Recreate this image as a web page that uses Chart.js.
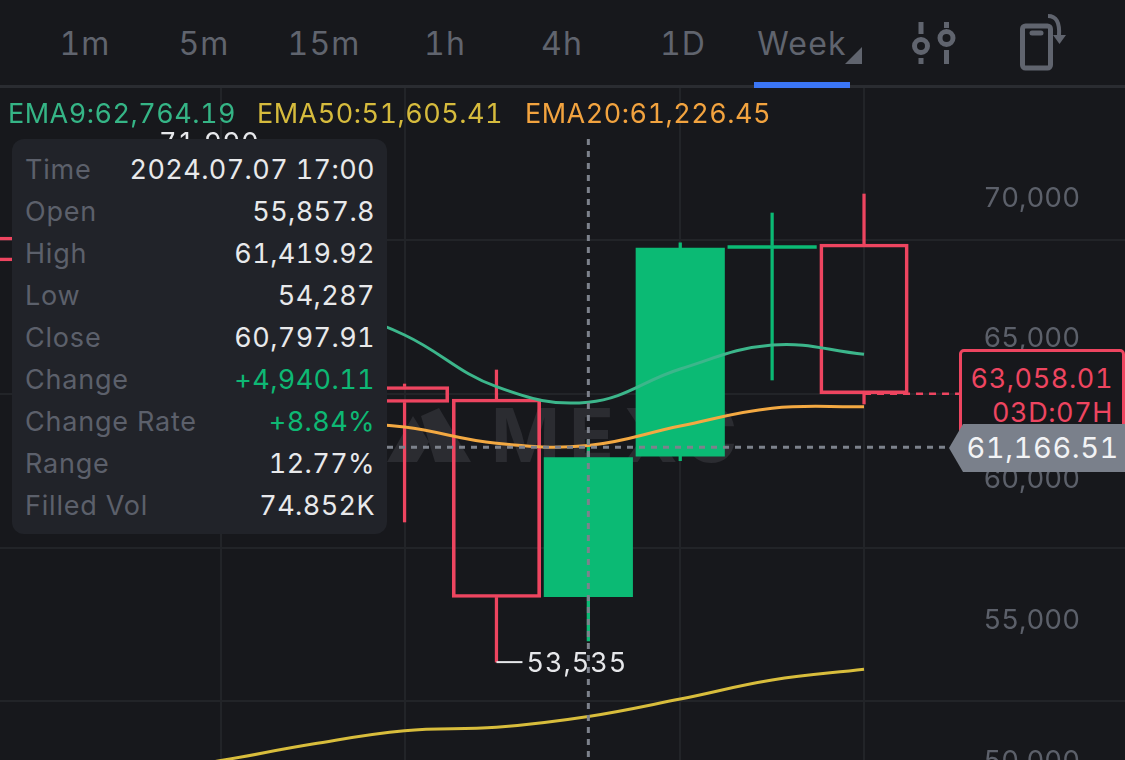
<!DOCTYPE html>
<html>
<head>
<meta charset="utf-8">
<script src="https://cdn.jsdelivr.net/npm/chart.js@4"></script>
<style>
  html, body { margin: 0; padding: 0; background: #17181c; overflow: hidden; }
  body { width: 1125px; height: 760px; position: relative; font-family: Inter, Roboto, sans-serif; font-variant-numeric: tabular-nums; }
  .abs { position: absolute; white-space: nowrap; }
  #chart { position: absolute; left: 0; top: 0; z-index: 2; }
  #watermark { left: 387px; top: 400px; width: 360px; height: 70px; z-index: 1; color: #2b2c31; font-size: 74px; font-weight: 700; letter-spacing: 9px; line-height: 70px; }
  #watermark svg { position: absolute; left: 0; top: 8px; }
  #watermark span { position: absolute; left: 104px; top: 0; }
  #header { left: 0; top: 0; width: 1125px; height: 85px; background: #17181c; border-bottom: 3px solid #2a2c31; z-index: 3; }
  .tf { top: 24px; height: 40px; line-height: 40px; font-size: 32px; color: #60646e; transform: translateX(-50%); letter-spacing: 1.2px; }
  #underline { left: 754px; top: 82px; width: 96px; height: 6px; background: #3b76f6; z-index: 4; }
  .ema { top: 97px; line-height: 34px; font-size: 27px; letter-spacing: 0.5px; z-index: 3; }
  #tip { left: 12px; top: 139px; width: 375px; height: 395px; background: #212329; border-radius: 12px; z-index: 4; }
  .row { position: absolute; left: 13px; right: 12px; height: 42px; line-height: 42px; font-size: 27px; letter-spacing: 0.4px; display: flex; justify-content: space-between; color: #e8e9eb; }
  .row span:first-child { color: #5c606b; letter-spacing: 0.8px; }
  .row .up { color: #0eb874; }
  #priceBox { left: 959px; top: 349px; width: 160px; height: 90px; border: 3px solid #ee4560; border-radius: 5px; background: #17181c; z-index: 4; color: #ee4560; font-size: 27px; letter-spacing: 0.6px; text-align: right; line-height: 34px; }
  #priceBox div { padding-right: 9px; }
  #crossLabel { left: 949px; top: 424px; width: 176px; height: 48px; background: #7a808b; clip-path: polygon(0 50%, 14px 0, 100% 0, 100% 100%, 14px 100%); z-index: 5; color: #f2f3f5; font-size: 29px; line-height: 48px; text-align: right; letter-spacing: 0.6px; }
  #crossLabel span { padding-right: 6px; }
</style>
</head>
<body>
<div class="abs" id="watermark">
  <svg width="84" height="54" viewBox="0 0 84 54"><path d="M0 54 L26 8 L42 34 L30 54 Z M34 8 L52 0 L84 54 L48 54 Z" fill="#2b2c31"/></svg><span>MEXC</span>
</div>
<canvas id="chart" width="1125" height="760"></canvas>

<div class="abs" id="header">
  <div class="abs tf" style="left:85px">1m</div>
  <div class="abs tf" style="left:204px">5m</div>
  <div class="abs tf" style="left:324px">15m</div>
  <div class="abs tf" style="left:445px">1h</div>
  <div class="abs tf" style="left:562px">4h</div>
  <div class="abs tf" style="left:683px">1D</div>
  <div class="abs tf" style="left:802px">Week</div>
  <svg class="abs" style="left:0;top:0" width="1125" height="85" fill="none" stroke="#60646e" stroke-width="5">
    <path d="M845 64 L862 64 L862 47 Z" fill="#60646e" stroke="none"/>
    <path d="M921 22 V34 M921 58 V64 M946.5 22 V28 M946.5 50 V64"/>
    <circle cx="921" cy="46" r="6.5"/>
    <circle cx="946.5" cy="38" r="6.5"/>
    <rect x="1022.5" y="26" width="28" height="42" rx="3"/>
    <path d="M1032 33 H1041" stroke-linecap="round"/>
    <path d="M1048 16 C1056 16 1060 22 1059 36" stroke-width="4"/>
    <path d="M1053 35 H1066 L1059.500 44 Z" fill="#60646e" stroke="none"/>
  </svg>
</div>
<div class="abs" id="underline"></div>

<div class="abs ema" style="left:8px;color:#35b586">EMA9:62,764.19</div>
<div class="abs ema" style="left:257px;color:#d6bb3d">EMA50:51,605.41</div>
<div class="abs ema" style="left:525px;color:#f2a33f">EMA20:61,226.45</div>

<div class="abs" id="tip">
  <div class="row" style="top:10px"><span>Time</span><span>2024.07.07 17:00</span></div>
  <div class="row" style="top:52px"><span>Open</span><span>55,857.8</span></div>
  <div class="row" style="top:94px"><span>High</span><span>61,419.92</span></div>
  <div class="row" style="top:136px"><span>Low</span><span>54,287</span></div>
  <div class="row" style="top:178px"><span>Close</span><span>60,797.91</span></div>
  <div class="row" style="top:220px"><span>Change</span><span class="up">+4,940.11</span></div>
  <div class="row" style="top:262px"><span>Change Rate</span><span class="up">+8.84%</span></div>
  <div class="row" style="top:304px"><span>Range</span><span>12.77%</span></div>
  <div class="row" style="top:346px"><span>Filled Vol</span><span>74.852K</span></div>
</div>

<div class="abs" id="priceBox">
  <div style="margin-top:10px">63,058.01</div>
  <div>03D:07H</div>
</div>
<div class="abs" id="crossLabel"><span>61,166.51</span></div>

<script>
// Weekly candles, the first four are mostly hidden behind the info panel
const weeks = ['05.26', '06.02', '06.09', '06.16', '06.23', '06.30', '07.07', '07.14', '07.21', '07.28']
const opens = [68626, 67800, 69200, 66400, 63320, 62875, 55857.8, 60850, 68220, 68378]
const closes = [67775, 69200, 66400, 64200, 62750, 55830, 60797.91, 68236, 68325, 63058.01]
const highs = [69400, 71990, 70000, 67000, 63408, 63905, 61419.92, 68420, 69479, 70153]
const lows = [66800, 67200, 65300, 63400, 58509, 53535, 54287, 60685, 63550, 62698]

const ema9 = [null, null, null, 66390, 65148, 63312, 62764.19, 63940, 64793, 64462]
const ema20 = [null, null, null, 62130, 61881, 61303, 61226.45, 61917, 62545, 62602]
const ema50 = [null, 49528, 50040, 50628, 51100, 51221, 51605.41, 52225, 52900, 53280]

const priceTicks = [50000, 55000, 60000, 65000, 70000]
const gridPrices = [52155, 57586, 63053, 68520]
const gridWeeks = [2, 4, 7, 9]

const lastPrice = 63058.01
const crossPrice = 61166.51
const crossWeek = 6
const lowWeek = 5
const highWeek = 1

const green = '#0bba74'
const red = '#ee4560'
const gridColor = '#222428'

const isUp = (i) => closes[i] >= opens[i]
const candleColor = (i) => (isUp(i) ? green : red)
const points = (fn) => weeks.map((week, i) => ({ x: i, y: fn(i) }))

function emaDataset(values, color) {
  return {
    type: 'line',
    data: values.map((v, i) => ({ x: i, y: v })),
    borderColor: color,
    borderWidth: 3,
    pointRadius: 0,
    tension: 0.4,
    order: 0,
  }
}

function wickDataset(fn) {
  return {
    data: points(fn),
    backgroundColor: (ctx) => candleColor(ctx.dataIndex),
    borderWidth: 0,
    barThickness: 2.6,
    grouped: false,
    order: 2,
  }
}

// Marks on top of the candles: high/low labels, last price line, crosshair
const overlay = {
  id: 'overlay',
  afterDatasetsDraw(chart) {
    const { ctx, scales: { x, y } } = chart
    ctx.save()
    ctx.font = '27px Inter, Roboto, sans-serif'
    ctx.textBaseline = 'middle'
    ctx.letterSpacing = '1px'

    // Extremes
    const drawExtreme = (week, value) => {
      const px = x.getPixelForValue(week)
      const py = y.getPixelForValue(value)
      ctx.fillStyle = '#e6e7ea'
      ctx.fillRect(px, py - 1, 26, 2)
      ctx.fillText(value.toLocaleString('en-US'), px + 30, py + 2)
    }
    drawExtreme(lowWeek, lows[lowWeek])
    drawExtreme(highWeek, highs[highWeek])

    // Last price
    ctx.setLineDash([7, 6])
    ctx.lineWidth = 2.5
    ctx.strokeStyle = red
    ctx.beginPath()
    ctx.moveTo(x.getPixelForValue(weeks.length - 1), y.getPixelForValue(lastPrice))
    ctx.lineTo(960, y.getPixelForValue(lastPrice))
    ctx.stroke()

    // Crosshair
    ctx.setLineDash([6, 6])
    ctx.lineWidth = 3
    ctx.strokeStyle = '#7d828c'
    ctx.beginPath()
    ctx.moveTo(x.getPixelForValue(crossWeek), 139)
    ctx.lineTo(x.getPixelForValue(crossWeek), 760)
    ctx.moveTo(387, y.getPixelForValue(crossPrice))
    ctx.lineTo(952, y.getPixelForValue(crossPrice))
    ctx.stroke()
    ctx.restore()
  },
}

// Labels sit inside the plot, so the axis must not take any room from it
function noRoom(axis) {
  axis.width = 0
  axis.paddingTop = 0
  axis.paddingBottom = 0
  axis.paddingLeft = 0
  axis.paddingRight = 0
}

new Chart(document.getElementById('chart'), {
  type: 'bar',
  data: {
    datasets: [
      emaDataset(ema9, '#3cb68b'),
      emaDataset(ema20, '#f3a942'),
      emaDataset(ema50, '#d8bd3c'),
      wickDataset((i) => [Math.max(opens[i], closes[i]), highs[i]]),
      wickDataset((i) => [lows[i], Math.min(opens[i], closes[i])]),
      {
        data: points((i) => [opens[i], closes[i]]),
        backgroundColor: (ctx) => (isUp(ctx.dataIndex) ? green : 'transparent'),
        borderColor: (ctx) => candleColor(ctx.dataIndex),
        borderWidth: (ctx) => (isUp(ctx.dataIndex) ? 0 : 3),
        borderSkipped: false,
        barThickness: 88.5,
        grouped: false,
        order: 1,
      },
    ],
  },
  options: {
    responsive: false,
    animation: false,
    devicePixelRatio: 1,
    layout: { padding: 0 },
    plugins: { legend: { display: false }, tooltip: { enabled: false } },
    events: [],
    scales: {
      x: {
        type: 'linear',
        offset: false,
        min: -0.4026,
        max: 11.84,
        afterBuildTicks: (axis) => {
          axis.ticks = gridWeeks.map((value) => ({ value }))
        },
        ticks: { display: false },
        border: { display: false },
        grid: { offset: false, color: gridColor, lineWidth: 2, drawTicks: false },
      },
      y: {
        position: 'right',
        min: 50060,
        max: 77040,
        afterBuildTicks: (axis) => {
          axis.ticks = priceTicks.map((value) => ({ value }))
        },
        afterFit: noRoom,
        ticks: {
          mirror: true,
          padding: -45,
          color: '#5c606a',
          font: { family: 'Inter, Roboto, sans-serif', size: 27.5 },
          callback: (value) => value.toLocaleString('en-US'),
        },
        border: { display: false },
        grid: { display: false, drawTicks: false },
      },
      yGrid: {
        position: 'right',
        min: 50060,
        max: 77040,
        afterBuildTicks: (axis) => {
          axis.ticks = gridPrices.map((value) => ({ value }))
        },
        ticks: { display: false },
        border: { display: false },
        grid: { color: gridColor, lineWidth: 2, drawTicks: false },
      },
    },
  },
  plugins: [overlay],
})
</script>
</body>
</html>
